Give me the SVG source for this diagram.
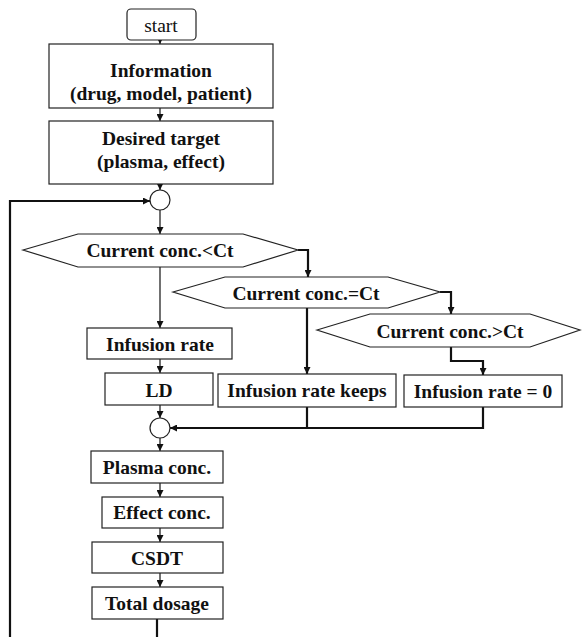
<svg xmlns="http://www.w3.org/2000/svg" width="582" height="637" viewBox="0 0 582 637">
<style>
.n{fill:#fff;stroke:#222;stroke-width:1.2}
.t{font-family:"Liberation Serif",serif;font-size:19.5px;font-weight:bold;fill:#111;text-anchor:middle}
.s{font-weight:normal}
.c{fill:none;stroke:#111;stroke-width:1.2}
.k{fill:none;stroke:#111;stroke-width:2.2}
</style>
<defs>
<marker id="a" viewBox="0 0 8 8" refX="8" refY="4" markerWidth="7" markerHeight="7" markerUnits="userSpaceOnUse" orient="auto">
<path d="M0,0 L8,4 L0,8 Z" fill="#111"/>
</marker>
</defs>
<rect width="582" height="637" fill="#fff"/>
<g id="connectors">
<path class="c" d="M160,40 V44" marker-end="url(#a)"/>
<path class="c" d="M160,108 V121" marker-end="url(#a)"/>
<path class="c" d="M160,184 V190" marker-end="url(#a)"/>
<path class="k" d="M10,637 V201 H150" marker-end="url(#a)"/>
<path class="c" d="M160,210 V234" marker-end="url(#a)"/>
<path class="c" d="M160,267 V328" marker-end="url(#a)"/>
<path class="k" d="M298,250 H308 V277" marker-end="url(#a)"/>
<path class="k" d="M440,292 H451 V314" marker-end="url(#a)"/>
<path class="k" d="M451,347 V361 H483 V375" marker-end="url(#a)"/>
<path class="k" d="M307,308 V374" marker-end="url(#a)"/>
<path class="c" d="M160,359 V373" marker-end="url(#a)"/>
<path class="c" d="M160,405 V418" marker-end="url(#a)"/>
<path class="k" d="M307,407 V428"/>
<path class="k" d="M483,407 V428 H170" marker-end="url(#a)"/>
<path class="c" d="M160,438 V451" marker-end="url(#a)"/>
<path class="c" d="M160,483 V497" marker-end="url(#a)"/>
<path class="c" d="M160,528 V542" marker-end="url(#a)"/>
<path class="c" d="M160,573 V587" marker-end="url(#a)"/>
<path class="k" d="M157,619 V637"/>
</g>
<g id="start">
<rect class="n" x="127" y="9" width="69" height="31" rx="4"/>
<text class="t s" x="161" y="32">start</text>
</g>
<g id="information">
<rect class="n" x="49" y="44" width="224" height="64"/>
<text class="t" x="161" y="77">Information</text>
<text class="t" x="161" y="100">(drug, model, patient)</text>
</g>
<g id="desired">
<rect class="n" x="49" y="121" width="224" height="63"/>
<text class="t" x="161" y="145">Desired target</text>
<text class="t" x="161" y="168">(plasma, effect)</text>
</g>
<g id="merge1">
<circle class="n" cx="160" cy="200" r="10"/>
</g>
<g id="cond-lt">
<polygon class="n" points="23,250 78,234 243,234 298,250 243,267 78,267"/>
<text class="t" x="160" y="257">Current conc.&lt;Ct</text>
</g>
<g id="cond-eq">
<polygon class="n" points="173,292 225,277 388,277 440,292 388,308 225,308"/>
<text class="t" x="306" y="300">Current conc.=Ct</text>
</g>
<g id="cond-gt">
<polygon class="n" points="317,330 370,314 530,314 580,330 530,347 370,347"/>
<text class="t" x="450" y="338">Current conc.&gt;Ct</text>
</g>
<g id="infusion-rate">
<rect class="n" x="87" y="328" width="145" height="31"/>
<text class="t" x="160" y="351">Infusion rate</text>
</g>
<g id="ld">
<rect class="n" x="105" y="373" width="108" height="32"/>
<text class="t" x="159" y="397">LD</text>
</g>
<g id="keeps">
<rect class="n" x="218" y="374" width="178" height="33"/>
<text class="t" x="307" y="397">Infusion rate keeps</text>
</g>
<g id="zero">
<rect class="n" x="404" y="375" width="158" height="32"/>
<text class="t" x="483" y="398">Infusion rate = 0</text>
</g>
<g id="merge2">
<circle class="n" cx="160" cy="428" r="10"/>
</g>
<g id="plasma">
<rect class="n" x="91" y="451" width="132" height="32"/>
<text class="t" x="157" y="474">Plasma conc.</text>
</g>
<g id="effect">
<rect class="n" x="102" y="497" width="121" height="31"/>
<text class="t" x="162" y="519">Effect conc.</text>
</g>
<g id="csdt">
<rect class="n" x="92" y="542" width="131" height="31"/>
<text class="t" x="157" y="565">CSDT</text>
</g>
<g id="total">
<rect class="n" x="92" y="587" width="131" height="32"/>
<text class="t" x="157" y="610">Total dosage</text>
</g>
</svg>
